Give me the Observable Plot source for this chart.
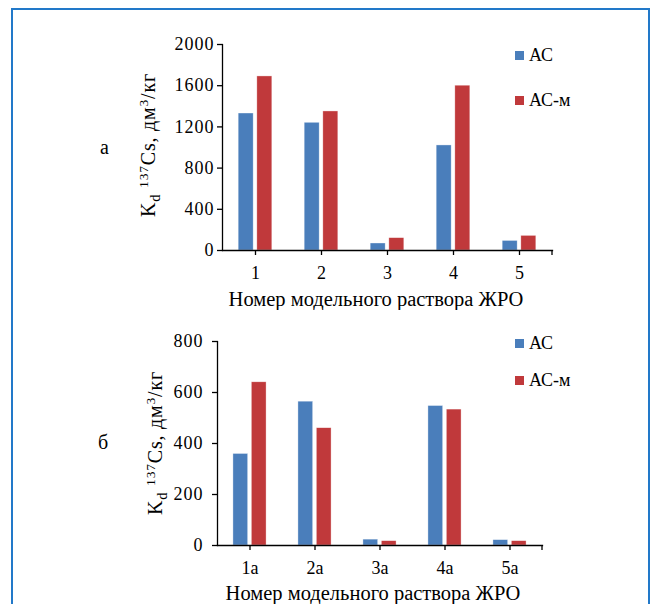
<!DOCTYPE html>
<html>
<head>
<meta charset="utf-8">
<script src="https://cdn.jsdelivr.net/npm/d3@7"></script>
<script src="https://cdn.jsdelivr.net/npm/@observablehq/plot@0.6"></script>
<style>
  html, body { margin: 0; padding: 0; background: #fff; }
  #page { position: relative; width: 653px; height: 604px; overflow: hidden; }
  #border {
    position: absolute; left: 11px; top: 8px; width: 639px; height: 700px;
    border: 2.5px solid #2279c9; border-bottom: none; box-sizing: border-box;
  }
  #page svg { position: absolute; left: 0; }
  #page svg text { font-family: "Liberation Serif", "Times New Roman", serif; }
  #page g[aria-label="y-axis tick label"] text { letter-spacing: 1px; }
  #page text.ylabel { letter-spacing: 0.8px; }
</style>
</head>
<body>
<div id="page"><div id="border"></div></div>
<script>
// Sorption series and their colours
const seriesNames = ["АС", "АС-м"];
const seriesColors = ["#4a7ebb", "#c0393b"];

// Panel а: model LRW solutions 1–5
const catsA = ["1", "2", "3", "4", "5"];
const acA = [1330, 1240, 68, 1020, 93];
const acmA = [1690, 1350, 120, 1600, 142];
const yTicksA = [0, 400, 800, 1200, 1600, 2000];

// Panel б: model LRW solutions 1а–5а
const catsB = ["1а", "2а", "3а", "4а", "5а"];
const acB = [359, 564, 23, 547, 21];
const acmB = [640, 460, 17, 533, 17];
const yTicksB = [0, 200, 400, 600, 800];

const xTitle = "Номер модельного раствора ЖРО";
const FONT = "Liberation Serif, Times New Roman, serif";

function panel(cfg) {
  const W = 653;
  const data = cfg.cats.flatMap((c, i) => [
    {cat: c, series: seriesNames[0], value: cfg.s1[i]},
    {cat: c, series: seriesNames[1], value: cfg.s2[i]}
  ]);
  const bw = (W - cfg.ml - cfg.mr) / cfg.cats.length;
  const outer = 0.245 * bw, half = 0.028 * bw;

  // closing tick at the right end of the category axis
  const endTick = (index, scales, values, dim) => {
    const x = dim.width - dim.marginRight;
    const y = dim.height - dim.marginBottom;
    return d3.create("svg:line")
      .attr("x1", x).attr("x2", x).attr("y1", y).attr("y2", y + 5)
      .attr("stroke", "#000").attr("stroke-width", 1.3).node();
  };

  const plot = Plot.plot({
    width: W, height: cfg.height,
    marginLeft: cfg.ml, marginRight: cfg.mr, marginTop: cfg.mt, marginBottom: cfg.mb,
    style: {fontFamily: FONT, fontSize: "18px", color: "#000", background: "transparent"},
    x: {type: "band", domain: cfg.cats, padding: 0, axis: null},
    y: {domain: [cfg.yTicks[0], cfg.yTicks[cfg.yTicks.length - 1]], axis: null},
    color: {domain: seriesNames, range: seriesColors},
    marks: [
      Plot.barY(data.filter(d => d.series === seriesNames[0]), {
        x: "cat", y: "value", fill: "series",
        insetLeft: outer, insetRight: bw / 2 + half,
        stroke: "#fff", strokeOpacity: 0.6, strokeWidth: 0.6
      }),
      Plot.barY(data.filter(d => d.series === seriesNames[1]), {
        x: "cat", y: "value", fill: "series",
        insetLeft: bw / 2 + half, insetRight: outer,
        stroke: "#fff", strokeOpacity: 0.6, strokeWidth: 0.6
      }),
      Plot.axisY({ticks: cfg.yTicks, tickSize: 5, tickPadding: cfg.padY, tickFormat: d => String(d),
        label: null, strokeWidth: 1.3, fontSize: 18, fontFamily: FONT}),
      Plot.axisX({tickSize: 5, tickPadding: 11, label: null, strokeWidth: 1.3, fontSize: 18, fontFamily: FONT}),
      Plot.frame({anchor: "left", stroke: "#000", strokeWidth: 1.3}),
      Plot.frame({anchor: "bottom", stroke: "#000", strokeWidth: 1.3}),
      endTick
    ]
  });
  plot.style.top = cfg.top + "px";

  const svg = d3.select(plot);
  const color = plot.scale("color");

  // panel letter
  svg.append("text").attr("x", cfg.letterX).attr("y", cfg.letterY)
    .attr("text-anchor", "start").attr("font-size", 20).attr("fill", "#000")
    .text(cfg.letter);

  // category axis title
  svg.append("text").attr("x", cfg.titleX).attr("y", cfg.titleY)
    .attr("text-anchor", "middle").attr("font-size", 20.5)
    .attr("fill", "#000").text(xTitle);

  // value axis title: Kd 137Cs, дм3/кг
  const yl = svg.append("text").attr("class", "ylabel")
    .attr("transform", `translate(${cfg.ylX},${cfg.ylY}) rotate(-90)`)
    .attr("text-anchor", "middle").attr("font-size", 20)
    .attr("fill", "#000");
  yl.append("tspan").text("K");
  yl.append("tspan").attr("font-size", 14.5).attr("dy", 5).text("d");
  yl.append("tspan").attr("dy", -5).text(" ");
  yl.append("tspan").attr("font-size", 13.5).attr("dy", -7).text("137");
  yl.append("tspan").attr("dy", 7).text("Cs, дм");
  yl.append("tspan").attr("font-size", 13.5).attr("dy", -7).text("3");
  yl.append("tspan").attr("dy", 7).text("/кг");

  // legend
  color.domain.forEach((name, i) => {
    svg.append("rect").attr("x", 515).attr("y", cfg.legY[i]).attr("width", 9).attr("height", 9)
      .attr("fill", color.range[i]);
    svg.append("text").attr("x", 529).attr("y", cfg.legY[i] + 10)
      .attr("text-anchor", "start").attr("font-size", 18).attr("fill", "#000").text(name);
  });

  document.getElementById("page").appendChild(plot);
}

panel({
  cats: catsA, s1: acA, s2: acmA, yTicks: yTicksA,
  top: 0, height: 310, ml: 222, mr: 101, mt: 44, mb: 60, padY: 3,
  letter: "а", letterX: 100, letterY: 154,
  titleX: 376, titleY: 306, ylX: 155, ylY: 145,
  legY: [51, 96]
});

panel({
  cats: catsB, s1: acB, s2: acmB, yTicks: yTicksB,
  top: 310, height: 294, ml: 217, mr: 111, mt: 31, mb: 59, padY: 9,
  letter: "б", letterX: 98, letterY: 139,
  titleX: 373, titleY: 290, ylX: 162, ylY: 133,
  legY: [29, 66]
});
</script>
</body>
</html>
